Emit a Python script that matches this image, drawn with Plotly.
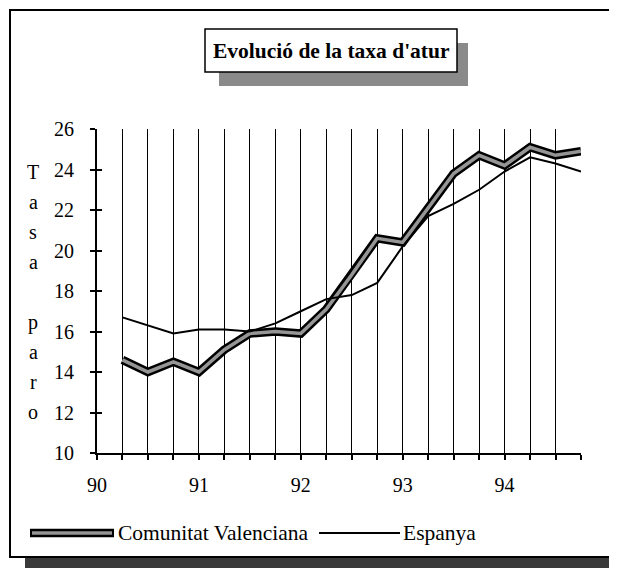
import plotly.graph_objects as go

# Dades: taxa d'atur trimestral (1990-1994)
trimestres = [90.25, 90.5, 90.75, 91.0, 91.25, 91.5, 91.75, 92.0, 92.25, 92.5,
              92.75, 93.0, 93.25, 93.5, 93.75, 94.0, 94.25, 94.5, 94.75]
valenciana = [14.6, 14.0, 14.5, 14.0, 15.1, 15.9, 16.0, 15.9, 17.1, 18.8,
              20.6, 20.4, 22.1, 23.8, 24.7, 24.2, 25.1, 24.7, 24.9]
espanya = [16.7, 16.3, 15.9, 16.1, 16.1, 16.0, 16.4, 17.0, 17.6, 17.8,
           18.4, 20.2, 21.7, 22.3, 23.0, 23.9, 24.6, 24.3, 23.9]
anys = ["90", "91", "92", "93", "94"]
marques_x = [90.0] + trimestres
titol = "Evolució de la taxa d'atur"
eix_y = ["T", "a", "s", "a", "", "p", "a", "r", "o"]

# la pàgina té un marge de 8px al body
OFF = 8
W, H = 617 - OFF, 568 - OFF
X0, X1, Y0, Y1 = 97, 581, 129, 453   # àrea del gràfic (px de pantalla)
PW, PH = X1 - X0, Y1 - Y0
FONT = "Liberation Serif"


def px(x):
    """pixel de pantalla -> paper (x)"""
    return (x - X0) / PW


def py(y):
    """pixel de pantalla -> paper (y)"""
    return (Y1 - y) / PH


fig = go.Figure()

# Comunitat Valenciana: línia gruixuda negra amb interior gris
fig.add_trace(go.Scatter(x=trimestres, y=valenciana, mode="lines",
                         line=dict(color="black", width=8.5), showlegend=False))
fig.add_trace(go.Scatter(x=trimestres, y=valenciana, mode="lines",
                         line=dict(color="#959595", width=3.5), showlegend=False))
# Espanya
fig.add_trace(go.Scatter(x=trimestres, y=espanya, mode="lines",
                         line=dict(color="black", width=2), showlegend=False))
# eix auxiliar per a les marques interiors de l'eix Y
fig.add_trace(go.Scatter(x=[], y=[], yaxis="y2", showlegend=False))

ticktext = []
for v in marques_x:
    ticktext.append(anys[int(v) - 90] if v == int(v) else "")

shapes = [
    # sombra del marc exterior
    dict(type="rect", xref="paper", yref="paper", x0=px(25), x1=px(617),
         y0=py(568), y1=py(557), fillcolor="#3a3a3a", line=dict(width=0), layer="below"),
    dict(type="rect", xref="paper", yref="paper", x0=px(611), x1=px(617),
         y0=py(568), y1=py(22), fillcolor="#3a3a3a", line=dict(width=0), layer="below"),
    # marc exterior
    dict(type="rect", xref="paper", yref="paper", x0=px(10), x1=px(611),
         y0=py(557), y1=py(10), line=dict(color="black", width=2), layer="below"),
    # sombra del títol
    dict(type="rect", xref="paper", yref="paper", x0=px(219), x1=px(468),
         y0=py(86), y1=py(43), fillcolor="#8a8a8a", line=dict(width=0)),
    # caixa del títol
    dict(type="rect", xref="paper", yref="paper", x0=px(205), x1=px(457),
         y0=py(72), y1=py(29), fillcolor="white", line=dict(color="black", width=1.5)),
    # llegenda
    dict(type="line", xref="paper", yref="paper", x0=px(30), x1=px(114),
         y0=py(533), y1=py(533), line=dict(color="black", width=8.5)),
    dict(type="line", xref="paper", yref="paper", x0=px(32), x1=px(112),
         y0=py(533), y1=py(533), line=dict(color="#959595", width=3.5)),
    dict(type="line", xref="paper", yref="paper", x0=px(319), x1=px(400),
         y0=py(533), y1=py(533), line=dict(color="black", width=2)),
]

annotations = [
    dict(text="<b>" + titol + "</b>", xref="paper", yref="paper",
         x=px(331), y=py(51), xanchor="center", yanchor="middle",
         showarrow=False, font=dict(size=21.5, color="black")),
    dict(text="Comunitat Valenciana", xref="paper", yref="paper", x=px(116),
         y=py(533), xanchor="left", yanchor="middle", showarrow=False,
         font=dict(size=21.5, color="black")),
    dict(text="Espanya", xref="paper", yref="paper", x=px(401),
         y=py(533), xanchor="left", yanchor="middle", showarrow=False,
         font=dict(size=21.5, color="black")),
]
for i, lletra in enumerate(eix_y):
    if lletra:
        annotations.append(dict(text=lletra, xref="paper", yref="paper", x=px(33),
                                y=py(172 + 30 * i), xanchor="center", yanchor="middle",
                                showarrow=False, font=dict(size=20, color="black")))

fig.update_layout(
    width=W, height=H,
    margin=dict(l=X0 - OFF, r=617 - X1, t=Y0 - OFF, b=568 - Y1),
    paper_bgcolor="white", plot_bgcolor="white",
    font=dict(family=FONT, size=20, color="black"),
    xaxis=dict(range=[90, 94.75], tickvals=marques_x, ticktext=ticktext,
               showgrid=True, gridcolor="black", gridwidth=1,
               showline=True, linecolor="black", linewidth=2,
               ticks="outside", ticklen=5, tickwidth=1.5, tickcolor="black",
               ticklabelstandoff=8, zeroline=False),
    yaxis=dict(range=[10, 26], dtick=2, tick0=10, showgrid=False,
               showline=True, linecolor="black", linewidth=2,
               ticks="outside", ticklen=5, tickwidth=1.5, tickcolor="black",
               ticklabelstandoff=12, zeroline=False),
    yaxis2=dict(range=[10, 26], dtick=2, tick0=10, overlaying="y", anchor="x",
                side="left", showgrid=False, showticklabels=False,
                ticks="inside", ticklen=5, tickwidth=1.5, tickcolor="black",
                zeroline=False),
    shapes=shapes,
    annotations=annotations,
    showlegend=False,
)

fig.write_html("out.html")
